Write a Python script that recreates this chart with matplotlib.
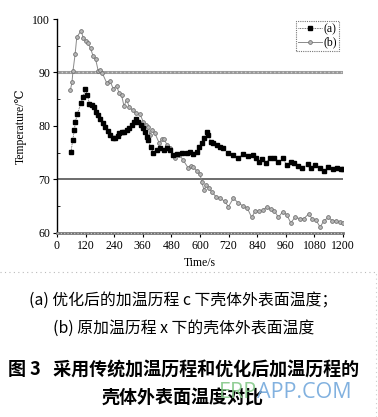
import matplotlib
matplotlib.use("Agg")
import matplotlib.pyplot as plt
from matplotlib.lines import Line2D

# ---- data ----
time_a = [59, 66, 73, 77, 85, 101, 110, 119, 127, 136, 148, 157, 164, 171, 180, 192, 201, 213,
          222, 236, 243, 254, 261, 271, 281, 292, 302, 313, 323, 331, 341, 352, 362, 369, 376,
          383, 393, 404, 418, 432, 449, 460, 474, 488, 505, 523, 544, 558, 572, 586, 597, 607,
          617, 628, 635, 645, 656, 670, 684, 698, 719, 740, 761, 782, 803, 821, 835, 848, 862,
          877, 894, 912, 929, 947, 964, 981, 994, 1012, 1027, 1055, 1064, 1083, 1104, 1122,
          1139, 1157, 1174, 1190, 1200]
temp_a = [75.2, 77.4, 79.2, 80.8, 82.2, 84.3, 85.5, 87.0, 85.8, 84.2, 83.9, 83.6, 82.7, 82.1,
          81.3, 80.5, 79.9, 79.1, 78.4, 77.8, 77.8, 78.1, 78.6, 78.8, 78.9, 79.3, 79.6, 80.2,
          80.8, 81.4, 80.8, 80.2, 79.6, 78.9, 78.0, 77.4, 76.0, 75.0, 75.5, 75.8, 75.5, 75.8,
          75.5, 74.6, 74.8, 74.9, 75.0, 75.2, 74.8, 75.2, 76.1, 76.8, 77.7, 78.8, 78.3, 77.1,
          76.8, 76.4, 76.1, 75.8, 74.9, 74.6, 74.0, 74.8, 74.4, 74.6, 74.0, 73.3, 73.8, 73.1,
          74.0, 74.1, 73.2, 74.0, 72.7, 73.3, 73.1, 72.5, 72.1, 72.9, 72.1, 72.7, 72.1, 71.5,
          72.3, 71.9, 72.2, 71.9, 72.0]

time_b = [56, 63, 67, 76, 83, 101, 110, 122, 130, 141, 152, 162, 173, 180, 190, 208, 222, 236,
          250, 261, 271, 281, 292, 303, 318, 330, 348, 362, 372, 383, 390, 397, 411, 429, 440,
          449, 463, 474, 495, 513, 530, 551, 561, 572, 586, 600, 607, 617, 625, 638, 649, 667,
          684, 705, 719, 740, 761, 779, 798, 817, 831, 849, 866, 880, 897, 912, 929, 947, 964,
          981, 998, 1020, 1036, 1057, 1071, 1087, 1104, 1120, 1139, 1155, 1171, 1186, 1200]
temp_b = [86.7, 88.2, 90.3, 93.4, 96.6, 97.8, 96.5, 95.8, 95.5, 94.5, 93.0, 92.5, 90.3, 90.5,
          89.9, 88.1, 88.4, 87.0, 87.5, 86.1, 85.8, 83.7, 84.9, 83.6, 82.9, 82.4, 82.2, 80.8,
          80.2, 79.9, 78.3, 79.3, 78.6, 76.8, 77.5, 77.5, 76.4, 75.8, 74.0, 74.6, 73.6, 72.1,
          72.6, 72.4, 71.6, 71.0, 69.6, 68.0, 68.9, 68.4, 67.7, 66.8, 66.5, 65.9, 64.9, 66.5,
          65.6, 65.1, 64.7, 62.9, 64.1, 64.1, 64.3, 64.9, 64.5, 64.2, 62.9, 64.0, 63.4, 61.9,
          62.9, 62.7, 62.7, 63.6, 62.6, 62.4, 61.1, 62.3, 62.9, 62.3, 62.2, 62.1, 61.9]

x_ticks = [0, 120, 240, 360, 480, 600, 720, 840, 960, 1080, 1200]
y_ticks = [60, 70, 80, 90, 100]
ref_lines = [90, 70]
series_labels = ["(a)", "(b)"]
x_label = "Time/s"
y_label = "Temperature/\u2103"
caption_1 = "(a) 优化后的加温历程 c 下壳体外表面温度；"
caption_2 = "(b) 原加温历程 x 下的壳体外表面温度"
title_1 = "图 3   采用传统加温历程和优化后加温历程的"
title_2 = "壳体外表面温度对比"
watermark = ["ERP", "APP.COM"]

W, H = 378, 417
fig = plt.figure(figsize=(W / 100, H / 100), dpi=100)
fig.patch.set_facecolor("white")

L, R, T, B = 57, 343, 19, 233
ax = fig.add_axes([L / W, 1 - B / H, (R - L) / W, (B - T) / H])
serif = ["Liberation Serif", "DejaVu Serif"]

ax.axhline(ref_lines[0], color="#9a9a9a", lw=2.2, zorder=1)
ax.axhline(ref_lines[0], color="#d0d0d0", lw=1.0, ls=(0, (1, 2)), zorder=1)
ax.axhline(ref_lines[1], color="#606060", lw=1.3, zorder=1)

ax.plot(time_a, temp_a, color="#444444", lw=0.6, ls=(0, (1, 1)), marker="s", ms=2.5,
        mfc="black", mec="black", label=series_labels[0], zorder=3)
ax.plot(time_b, temp_b, color="#8a8a8a", lw=0.7, marker="o", ms=2.7,
        mfc="#b8b8b8", mec="#707070", mew=0.6, label=series_labels[1], zorder=2)

ax.set_xlim(0, 1200)
ax.set_ylim(60, 100)
ax.set_xticks(x_ticks)
ax.set_yticks(y_ticks)
ax.set_yticks([65, 75, 85, 95], minor=True)
ax.tick_params(axis="both", which="major", direction="out", length=3, width=0.8,
               labelsize=8.5, pad=2)
ax.tick_params(axis="y", which="minor", direction="in", length=2, width=0.6)
for lab in ax.get_xticklabels() + ax.get_yticklabels():
    lab.set_fontfamily(serif)

for s in ["top", "right"]:
    ax.spines[s].set_visible(False)
ax.spines["left"].set_color("black")
ax.spines["left"].set_linewidth(1.0)
ax.spines["bottom"].set_color("#777777")
ax.spines["bottom"].set_linewidth(2.0)
ax.axhline(60, color="#cfcfcf", lw=0.8, ls=(0, (1, 2)), zorder=4, clip_on=False)

ax.set_xlabel(x_label, fontsize=8.5, family=serif, labelpad=4)
ax.set_ylabel(y_label, fontsize=8.5, family=serif, labelpad=4)

leg = ax.legend(loc="upper right", bbox_to_anchor=(0.986, 0.99),
                prop={"family": serif, "size": 8.5}, frameon=True, fancybox=False,
                handlelength=2.0, handletextpad=0.1, borderpad=0.2, labelspacing=0.1,
                borderaxespad=0)
leg.get_frame().set_edgecolor("#555555")
leg.get_frame().set_linewidth(0.8)
leg.get_frame().set_linestyle((0, (1, 1)))

# page separator dotted line
fig.add_artist(Line2D([0, 1], [1 - 272 / H, 1 - 272 / H], transform=fig.transFigure,
                      color="#bbbbbb", lw=0.8, ls=(0, (1, 3))))
fig.add_artist(Line2D([376 / W, 376 / W], [0, 1 - 272 / H], transform=fig.transFigure,
                      color="#cccccc", lw=0.8, ls=(0, (1, 3))))

cjk = ["Noto Sans CJK SC", "DejaVu Sans"]
fig.text(183 / W, 1 - 300 / H, caption_1, ha="center", va="center", fontsize=11.4, family=cjk)
fig.text(184 / W, 1 - 328 / H, caption_2, ha="center", va="center", fontsize=11.4, family=cjk)
fig.text(184 / W, 1 - 369 / H, title_1, ha="center", va="center", fontsize=13,
         family=cjk, fontweight="bold")
fig.text(183 / W, 1 - 398 / H, title_2, ha="center", va="center", fontsize=13,
         family=cjk, fontweight="bold")

# watermark (overlaps the last caption line, as in the reference)
wm_font = ["Open Sans", "DejaVu Sans"]
t1 = fig.text(219 / W, 1 - 393 / H, watermark[0], ha="left", va="center", fontsize=15.5,
              family=wm_font, color="#86c98a", alpha=0.9)
fig.canvas.draw()
bb = t1.get_window_extent(fig.canvas.get_renderer())
fig.text(bb.x1 / W, 1 - 393 / H, watermark[1], ha="left", va="center", fontsize=15.5,
         family=wm_font, color="#74a9dc", alpha=0.9)

fig.savefig("out.png", dpi=100, facecolor="white")
